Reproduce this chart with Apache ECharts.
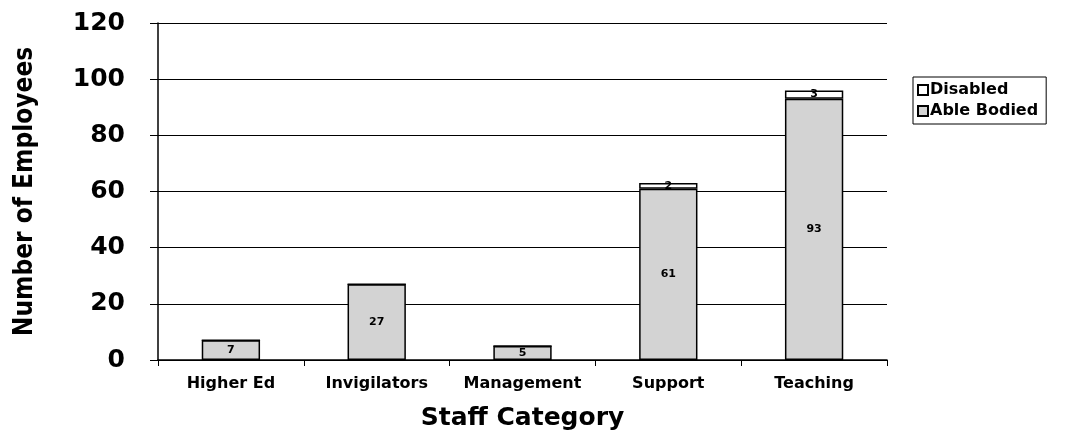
<!DOCTYPE html>
<html>
<head>
<meta charset="utf-8">
<script src="https://cdn.jsdelivr.net/npm/echarts@6/dist/echarts.min.js"></script>
<style>
	html, body { margin: 0; padding: 0; background: #fff; }
	#chart { width: 1075px; height: 434px; }
</style>
</head>
<body>
<div id="chart"></div>
<script>
const categories = ["Higher Ed", "Invigilators", "Management", "Support", "Teaching"];
const ableBodied = [7, 27, 5, 61, 93];
const disabled = [0, 0, 0, 2, 3];
const yTicks = [0, 20, 40, 60, 80, 100, 120];

const chart = echarts.init(document.getElementById("chart"));

const labelStyle = {
	show: true,
	position: "inside",
	color: "#000",
	fontFamily: "DejaVu Sans, Liberation Sans",
	fontWeight: "bold",
	fontSize: 11,
	formatter: (p) => (p.value > 0 ? p.value : ""),
};

chart.setOption({
	animation: false,
	backgroundColor: "#fff",
	grid: { left: 158, right: 188, top: 23, bottom: 74, outerBoundsMode: "none", containLabel: false },
	legend: {
		orient: "vertical",
		left: 913,
		top: 77,
		data: ["Disabled", "Able Bodied"],
		icon: "rect",
		itemWidth: 10,
		itemHeight: 10,
		itemGap: 5,
		padding: [5, 8, 5, 4],
		borderColor: "#000",
		borderWidth: 1,
		textStyle: {
			color: "#000",
			fontFamily: "DejaVu Sans, Liberation Sans",
			fontWeight: "bold",
			fontSize: 16,
			padding: [0, 0, 0, -3],
		},
	},
	xAxis: {
		type: "category",
		data: categories,
		name: "Staff Category",
		nameLocation: "middle",
		nameGap: 46,
		nameTextStyle: {
			color: "#000",
			fontFamily: "DejaVu Sans, Liberation Sans",
			fontWeight: "bold",
			fontSize: 25,
		},
		axisLine: { lineStyle: { color: "#000", width: 1.5 } },
		axisTick: { show: true, length: 6, lineStyle: { color: "#000" } },
		axisLabel: {
			interval: 0,
			color: "#000",
			fontFamily: "DejaVu Sans, Liberation Sans",
			fontWeight: "bold",
			fontSize: 16,
			margin: 16,
		},
	},
	yAxis: {
		type: "value",
		min: 0,
		max: 120,
		interval: 20,
		name: "Number of Employees",
		nameLocation: "middle",
		nameGap: 120,
		nameTextStyle: {
			color: "#000",
			fontFamily: "DejaVu Sans Condensed, Liberation Sans Narrow, Liberation Sans",
			fontWeight: "bold",
			fontSize: 26,
		},
		axisLine: { show: true, lineStyle: { color: "#000", width: 1.5 } },
		axisTick: { show: true, length: 8, lineStyle: { color: "#000" } },
		axisLabel: {
			color: "#000",
			fontFamily: "DejaVu Sans, Liberation Sans",
			fontWeight: "bold",
			fontSize: 25,
			margin: 33,
			formatter: (v) => (yTicks.includes(v) ? String(v) : ""),
		},
		splitLine: { lineStyle: { color: "#000", width: 1.2 } },
	},
	series: [
		{
			name: "Able Bodied",
			type: "bar",
			stack: "staff",
			barWidth: "40%",
			data: ableBodied,
			itemStyle: { color: "#d3d3d3", borderColor: "#000", borderWidth: 1.5 },
			label: labelStyle,
		},
		{
			name: "Disabled",
			type: "bar",
			stack: "staff",
			barWidth: "40%",
			data: disabled,
			itemStyle: { color: "#fff", borderColor: "#000", borderWidth: 1.5 },
			label: labelStyle,
		},
	],
});
</script>
</body>
</html>
